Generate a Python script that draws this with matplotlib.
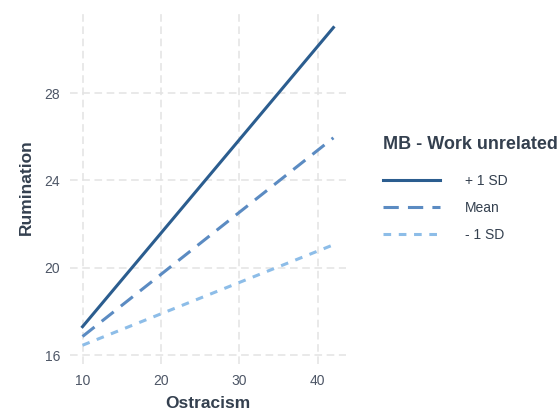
import numpy as np
import matplotlib.pyplot as plt

plt.rcParams['font.family'] = ['Liberation Sans', 'DejaVu Sans']

# simple slopes: Ostracism -> Rumination, moderated by MB - Work unrelated
ostracism = [10, 42]
plus_sd = [17.3, 31.0]
mean = [16.85, 25.95]
minus_sd = [16.45, 21.05]

labels = ["+ 1 SD", "Mean", "- 1 SD"]
colors = ["#2b5d8f", "#5b8bc2", "#8dbde8"]
styles = ["-", (0, (5, 3)), (0, (2.5, 2.5))]

txt = "#34404f"

fig = plt.figure(figsize=(5.58, 4.13), dpi=100)
ax = fig.add_axes([0.1254, 0.1186, 0.4946, 0.857])

for y, lab, c, ls in zip([plus_sd, mean, minus_sd], labels, colors, styles):
    ax.plot(ostracism, y, color=c, linestyle=ls, linewidth=2.2, label=lab)

ax.set_xlim(8.4, 43.6)
ax.set_ylim(15.59, 31.8)
ax.set_xticks([10, 20, 30, 40])
ax.set_yticks([16, 20, 24, 28])
ax.grid(True, color="#e3e3e3", linestyle=(0, (5, 3)), linewidth=1.1)
ax.set_axisbelow(True)
for s in ax.spines.values():
    s.set_visible(False)
ax.tick_params(length=0, labelsize=10, labelcolor="#4d5666", pad=7)

ax.set_xlabel("Ostracism", fontsize=12.5, fontweight="bold", color=txt, labelpad=6)
ax.set_ylabel("Rumination", fontsize=12.5, fontweight="bold", color=txt, labelpad=8)

leg = ax.legend(title="MB - Work unrelated", loc="upper left",
                bbox_to_anchor=(383 / 558, 1 - 136 / 413),
                bbox_transform=fig.transFigure, borderaxespad=0, borderpad=0,
                frameon=False, fontsize=10,
                handlelength=4.1, handletextpad=1.8, labelspacing=0.95,
                labelcolor=txt)
leg.get_title().set_fontweight("bold")
leg.get_title().set_fontsize(13)
leg.get_title().set_color(txt)
leg._legend_box.align = "left"
leg._legend_box.sep = 15

fig.savefig("out.png", dpi=100)
